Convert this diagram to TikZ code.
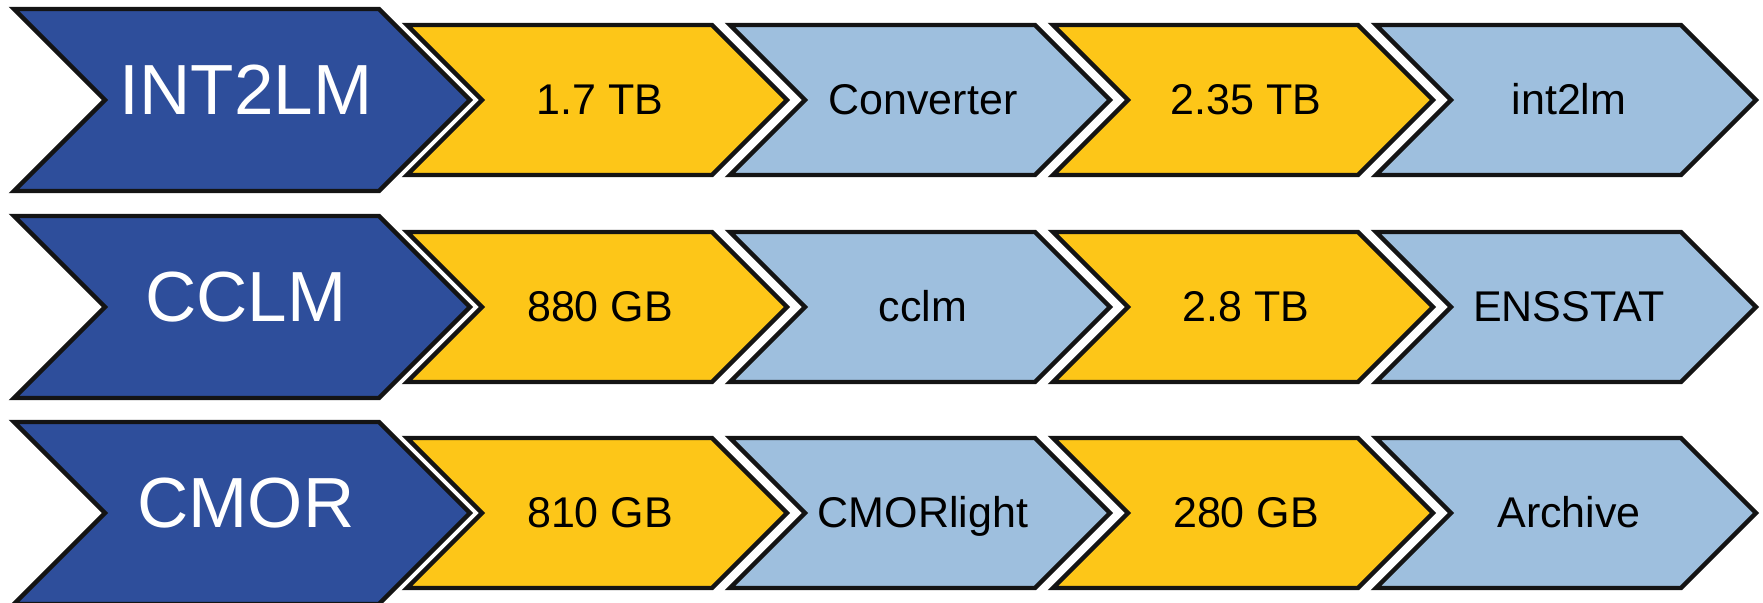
\documentclass[tikz,border=0pt]{standalone}
\usepackage{fontspec}
\setmainfont{Liberation Sans}
\definecolor{darkblue}{RGB}{46,78,155}
\definecolor{gold}{RGB}{253,198,24}
\definecolor{paleblue}{RGB}{158,191,222}
\tikzset{
  chevline/.style={draw=black!92, line width=2.2pt, line join=miter},
  bigtext/.style={anchor=base, text=white, inner sep=0pt, font=\fontsize{35.5}{42}\selectfont},
  smalltext/.style={anchor=base, text=black, inner sep=0pt, font=\fontsize{21.5}{26}\selectfont},
}
% #1 left x, #2 centre y, #3 half height, #4 top length, #5 fill, #6 name, #7 text style, #8 text, #9 text x shift
\newcommand{\chevshape}[9]{%
  \draw[chevline, fill=#5] (#1,#2-#3) -- ++(#4,0) -- ++(#3,#3) -- ++(-#3,#3) -- ++(-#4,0) -- ++(#3,-#3) -- cycle;
  \node[#7] (#6) at (#1+#4/2+#3/2+#9, #2+\ifx#7bigtext 23\else 14\fi) {#8};
}
\begin{document}
\begin{tikzpicture}[x=0.5pt,y=-0.5pt]
\useasboundingbox (0,0) rectangle (1763,602);
% row 1
\chevshape{14}{100}{91}{365}{darkblue}{r1a}{bigtext}{INT2LM}{4}
\chevshape{407}{100}{75}{305}{gold}{r1b}{smalltext}{1.7 TB}{3}
\chevshape{730}{100}{75}{305}{paleblue}{r1c}{smalltext}{Converter}{3}
\chevshape{1053}{100}{75}{305}{gold}{r1d}{smalltext}{2.35 TB}{3}
\chevshape{1376}{100}{75}{305}{paleblue}{r1e}{smalltext}{int2lm}{3}
% row 2
\chevshape{14}{307}{91}{365}{darkblue}{r2a}{bigtext}{CCLM}{4}
\chevshape{407}{307}{75}{305}{gold}{r2b}{smalltext}{880 GB}{3}
\chevshape{730}{307}{75}{305}{paleblue}{r2c}{smalltext}{cclm}{3}
\chevshape{1053}{307}{75}{305}{gold}{r2d}{smalltext}{2.8 TB}{3}
\chevshape{1376}{307}{75}{305}{paleblue}{r2e}{smalltext}{ENSSTAT}{3}
% row 3
\chevshape{14}{513}{91}{365}{darkblue}{r3a}{bigtext}{CMOR}{4}
\chevshape{407}{513}{75}{305}{gold}{r3b}{smalltext}{810 GB}{3}
\chevshape{730}{513}{75}{305}{paleblue}{r3c}{smalltext}{CMORlight}{3}
\chevshape{1053}{513}{75}{305}{gold}{r3d}{smalltext}{280 GB}{3}
\chevshape{1376}{513}{75}{305}{paleblue}{r3e}{smalltext}{Archive}{3}
\end{tikzpicture}
\end{document}
